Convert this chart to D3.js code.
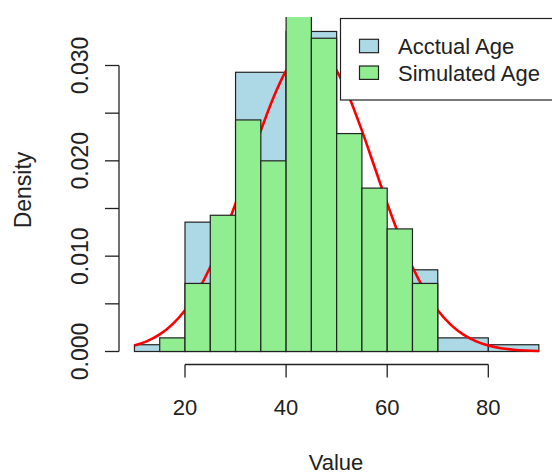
<!DOCTYPE html>
<html>
<head>
<meta charset="utf-8">
<script src="https://cdn.jsdelivr.net/npm/d3@7"></script>
<style>
  body { margin: 0; background: #fff; }
  svg { display: block; font-family: "Liberation Sans", Arial, sans-serif; }
</style>
</head>
<body>
<div id="chart"></div>
<script>
// Actual ages: bins of width 10
const actualBreaks = [10, 20, 30, 40, 50, 60, 70, 80, 90];
const actualDensity = [0.00071, 0.01357, 0.02929, 0.03357, 0.01214, 0.00857, 0.00143, 0.00071];

// Simulated ages: bins of width 5
const simBreaks = [15, 20, 25, 30, 35, 40, 45, 50, 55, 60, 65, 70];
const simDensity = [0.00143, 0.00714, 0.01429, 0.02429, 0.02, 0.04, 0.03286, 0.02286, 0.01714, 0.01286, 0.00714];

// Red density curve
const curveX = [10, 12.5, 15, 17.5, 20, 22.5, 25, 27.5, 30, 32.5, 35, 37.5, 40, 42.5, 45,
  47.5, 50, 52.5, 55, 57.5, 60, 62.5, 65, 67.5, 70, 72.5, 75, 77.5, 80, 82.5, 85, 87.5, 90];
const curveY = [0.00063, 0.00109, 0.00179, 0.00284, 0.00432, 0.00632, 0.00887, 0.01198, 0.01553,
  0.01935, 0.02317, 0.02665, 0.02946, 0.0313, 0.0319, 0.0313, 0.02946, 0.02665, 0.02317,
  0.01935, 0.01553, 0.01198, 0.00887, 0.00632, 0.00432, 0.00284, 0.00179, 0.00109, 0.00063,
  0.00035, 0.00019, 0.0001, 0.00005];

const xTicks = [20, 40, 60, 80];
const yTicks = [0, 0.005, 0.01, 0.015, 0.02, 0.025, 0.03];
const yTickLabels = ["0.000", "", "0.010", "", "0.020", "", "0.030"];
const legendLabels = ["Acctual Age", "Simulated Age"];
const legendColors = ["#ADD8E6", "#90EE90"];

const width = 552, height = 475;
const plot = { left: 119, right: 556, top: 17, bottom: 364.5 };

const x = d3.scaleLinear().domain([20, 80]).range([185, 488.3]);
const y = d3.scaleLinear().domain([0, 0.03]).range([351.5, 65.5]);

const svg = d3.select("#chart").append("svg")
  .attr("width", width)
  .attr("height", height);

svg.append("defs").append("clipPath").attr("id", "plotclip")
  .append("rect")
  .attr("x", plot.left).attr("y", plot.top)
  .attr("width", plot.right - plot.left)
  .attr("height", plot.bottom - plot.top);

const g = svg.append("g").attr("clip-path", "url(#plotclip)");

function bars(breaks, dens, fill) {
  const data = dens.map((d, i) => ({ x0: breaks[i], x1: breaks[i + 1], d }));
  g.append("g").selectAll("rect")
    .data(data)
    .join("rect")
    .attr("x", d => x(d.x0))
    .attr("width", d => x(d.x1) - x(d.x0))
    .attr("y", d => y(d.d))
    .attr("height", d => y(0) - y(d.d))
    .attr("fill", fill)
    .attr("stroke", "#222")
    .attr("stroke-width", 1.2);
}

// blue first, then the curve, then green on top
bars(actualBreaks, actualDensity, legendColors[0]);

const line = d3.line()
  .x((d, i) => x(curveX[i]))
  .y(d => y(d))
  .curve(d3.curveMonotoneX);

g.append("path")
  .datum(curveY)
  .attr("d", line)
  .attr("fill", "none")
  .attr("stroke", "#ff0000")
  .attr("stroke-width", 2.6);

bars(simBreaks, simDensity, legendColors[1]);

// axes, R style
const axisColor = "#222";
const xAxis = svg.append("g");
xAxis.append("line")
  .attr("x1", x(xTicks[0])).attr("x2", x(xTicks[xTicks.length - 1]))
  .attr("y1", plot.bottom).attr("y2", plot.bottom)
  .attr("stroke", axisColor).attr("stroke-width", 1.3);
xAxis.selectAll(".tick")
  .data(xTicks)
  .join("line")
  .attr("x1", d => x(d)).attr("x2", d => x(d))
  .attr("y1", plot.bottom).attr("y2", plot.bottom + 13)
  .attr("stroke", axisColor).attr("stroke-width", 1.3);
xAxis.selectAll("text")
  .data(xTicks)
  .join("text")
  .attr("x", d => x(d))
  .attr("y", 414.5)
  .attr("text-anchor", "middle")
  .attr("font-size", 22)
  .attr("fill", "#222")
  .text(d => d);

const yAxis = svg.append("g");
yAxis.append("line")
  .attr("x1", plot.left).attr("x2", plot.left)
  .attr("y1", y(0)).attr("y2", y(0.03))
  .attr("stroke", axisColor).attr("stroke-width", 1.3);
yAxis.selectAll(".tick")
  .data(yTicks)
  .join("line")
  .attr("x1", plot.left - 14).attr("x2", plot.left)
  .attr("y1", d => y(d)).attr("y2", d => y(d))
  .attr("stroke", axisColor).attr("stroke-width", 1.3);
yAxis.selectAll("text")
  .data(yTicks)
  .join("text")
  .attr("transform", d => `translate(88,${y(d)}) rotate(-90)`)
  .attr("text-anchor", "middle")
  .attr("font-size", 23)
  .attr("fill", "#222")
  .text((d, i) => yTickLabels[i]);

// axis titles
svg.append("text")
  .attr("x", 336).attr("y", 470)
  .attr("text-anchor", "middle")
  .attr("font-size", 22)
  .attr("fill", "#222")
  .text("Value");

svg.append("text")
  .attr("transform", "translate(31,190) rotate(-90)")
  .attr("text-anchor", "middle")
  .attr("font-size", 23)
  .attr("fill", "#222")
  .text("Density");

// legend
const legend = svg.append("g");
legend.append("rect")
  .attr("x", 340.5).attr("y", 18.5)
  .attr("width", 220).attr("height", 81.5)
  .attr("fill", "#fff")
  .attr("stroke", "#222")
  .attr("stroke-width", 1.2);

legendLabels.forEach((label, i) => {
  const cy = 46 + i * 26.7;
  legend.append("rect")
    .attr("x", 359.5).attr("y", cy - 6.7)
    .attr("width", 19).attr("height", 13.4)
    .attr("fill", legendColors[i])
    .attr("stroke", "#222")
    .attr("stroke-width", 1.2);
  legend.append("text")
    .attr("x", 398)
    .attr("y", cy + 8)
    .attr("font-size", 22)
    .attr("fill", "#222")
    .text(label);
});
</script>
</body>
</html>
